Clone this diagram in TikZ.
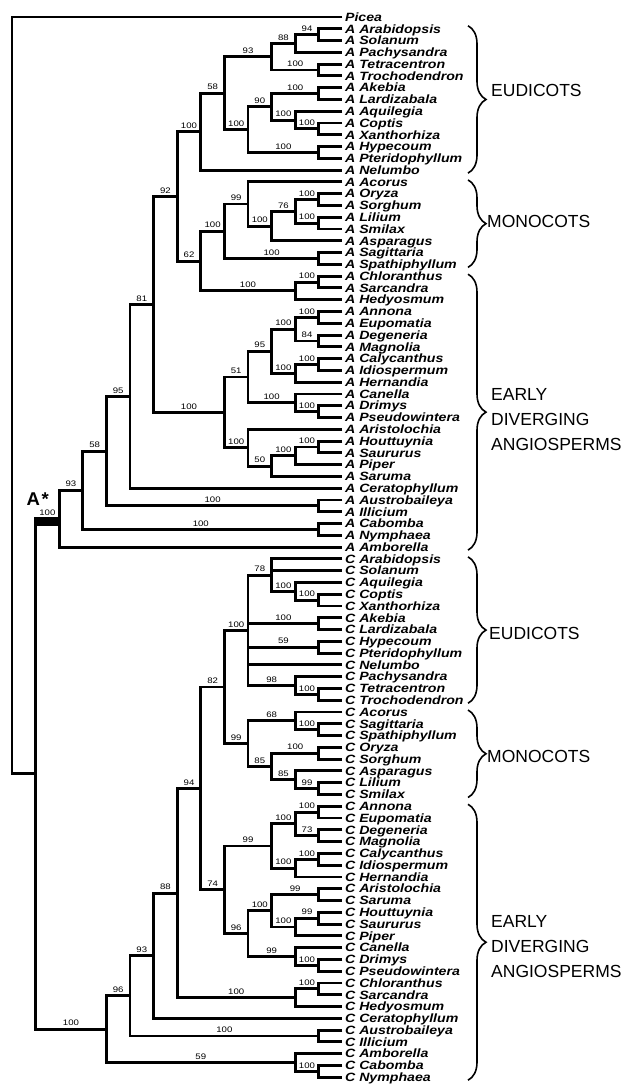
\documentclass[tikz,border=0pt]{standalone}
\usepackage{fontspec}
\setmainfont{Liberation Sans}
\newfontfamily\taxonfont[FakeStretch=1.18]{Liberation Sans}
\newfontfamily\supportfont[FakeStretch=1.2]{Liberation Sans}
\usetikzlibrary{calc, positioning, decorations.pathreplacing}
\tikzset{
  branch/.style={line width=2.9pt, line join=miter},
  a_bar/.style={line width=8.5pt},
  taxon/.style={font=\taxonfont\bfseries\itshape\fontsize{12}{12}\selectfont, inner sep=0pt, text height=8.5pt, text depth=0pt},
  support/.style={font=\supportfont\fontsize{8}{8}\selectfont, inner sep=0pt, anchor=south, yshift=3pt},
  group_brace/.style={decorate, decoration={brace, amplitude=18pt}, line width=1.6pt},
  group_label/.style={font=\fontsize{17.5}{25}\selectfont, inner sep=0pt, anchor=west, align=left},
  star_label/.style={font=\bfseries\fontsize{18.5}{19}\selectfont, inner sep=0pt, anchor=base west}
}
% clade: name, depth, first child, last child
\newcommand{\clade}[4]{%
  \path let \p1=($(#3)!0.5!(#4)$) in coordinate (#1) at ({12pt+23.6pt*#2},\y1);
  \draw[branch] (#3) -| (#1) |- (#4);
}
% support value on the branch child <- parent
\newcommand{\bootval}[3]{%
  \node[support] (b-#1) at ($(#1)!0.5!(#1 -| #2)$) {#3};
}

\begin{document}
\begin{tikzpicture}[x=1pt, y=-1pt]
  \useasboundingbox (0,0) rectangle (626,1086);

  % --- Taxa ---
  \foreach \name [count=\k from 0] in {Picea,
      A Arabidopsis, A Solanum, A Pachysandra, A Tetracentron, A Trochodendron,
      A Akebia, A Lardizabala, A Aquilegia, A Coptis, A Xanthorhiza,
      A Hypecoum, A Pteridophyllum, A Nelumbo,
      A Acorus, A Oryza, A Sorghum, A Lilium, A Smilax, A Asparagus,
      A Sagittaria, A Spathiphyllum,
      A Chloranthus, A Sarcandra, A Hedyosmum,
      A Annona, A Eupomatia, A Degeneria, A Magnolia, A Calycanthus,
      A Idiospermum, A Hernandia, A Canella, A Drimys, A Pseudowintera,
      A Aristolochia, A Houttuynia, A Saururus, A Piper, A Saruma,
      A Ceratophyllum, A Austrobaileya, A Illicium, A Cabomba, A Nymphaea,
      A Amborella,
      C Arabidopsis, C Solanum, C Aquilegia, C Coptis, C Xanthorhiza,
      C Akebia, C Lardizabala, C Hypecoum, C Pteridophyllum, C Nelumbo,
      C Pachysandra, C Tetracentron, C Trochodendron,
      C Acorus, C Sagittaria, C Spathiphyllum, C Oryza, C Sorghum,
      C Asparagus, C Lilium, C Smilax,
      C Annona, C Eupomatia, C Degeneria, C Magnolia, C Calycanthus,
      C Idiospermum, C Hernandia, C Aristolochia, C Saruma, C Houttuynia,
      C Saururus, C Piper, C Canella, C Drimys, C Pseudowintera,
      C Chloranthus, C Sarcandra, C Hedyosmum, C Ceratophyllum,
      C Austrobaileya, C Illicium, C Amborella, C Cabomba, C Nymphaea} {
    \coordinate (l\k) at (342.4, {17+11.78*\k});
    \node[taxon, right=2.5pt of l\k] (t\k) {\name};
  }

  % --- A copies: eudicots ---
  \clade{aAS}{13}{l1}{l2}
  \clade{aASP}{12}{aAS}{l3}
  \clade{aTT}{13}{l4}{l5}
  \clade{aCore}{11}{aASP}{aTT}
  \clade{aAL}{13}{l6}{l7}
  \clade{aCX}{13}{l9}{l10}
  \clade{aAqu}{12}{l8}{aCX}
  \clade{aRan}{11}{aAL}{aAqu}
  \clade{aHP}{13}{l11}{l12}
  \clade{aRanP}{10}{aRan}{aHP}
  \clade{aTri}{9}{aCore}{aRanP}
  \clade{aEud}{8}{aTri}{l13}

  % --- A copies: monocots, Chloranthaceae ---
  \clade{aOS}{13}{l15}{l16}
  \clade{aLS}{13}{l17}{l18}
  \clade{aOSLS}{12}{aOS}{aLS}
  \clade{aAsp}{11}{aOSLS}{l19}
  \clade{aMonA}{10}{l14}{aAsp}
  \clade{aSS}{13}{l20}{l21}
  \clade{aMon}{9}{aMonA}{aSS}
  \clade{aCS}{13}{l22}{l23}
  \clade{aChl}{12}{aCS}{l24}
  \clade{aMonChl}{8}{aMon}{aChl}
  \clade{aEudMon}{7}{aEud}{aMonChl}

  % --- A copies: magnoliids, Piperales ---
  \clade{aAE}{13}{l25}{l26}
  \clade{aDM}{13}{l27}{l28}
  \clade{aMagA}{12}{aAE}{aDM}
  \clade{aCI}{13}{l29}{l30}
  \clade{aLau}{12}{aCI}{l31}
  \clade{aMagLau}{11}{aMagA}{aLau}
  \clade{aDP}{13}{l33}{l34}
  \clade{aCan}{12}{l32}{aDP}
  \clade{aMagCan}{10}{aMagLau}{aCan}
  \clade{aHS}{13}{l36}{l37}
  \clade{aSaur}{12}{aHS}{l38}
  \clade{aPipS}{11}{aSaur}{l39}
  \clade{aPip}{10}{l35}{aPipS}
  \clade{aMagn}{9}{aMagCan}{aPip}

  % --- A copies: backbone ---
  \clade{aCore81}{6}{aEudMon}{aMagn}
  \clade{aCer}{5}{aCore81}{l40}
  \clade{aAI}{13}{l41}{l42}
  \clade{aAus}{4}{aCer}{aAI}
  \clade{aCN}{13}{l43}{l44}
  \clade{aNym}{3}{aAus}{aCN}
  \clade{aRoot}{2}{aNym}{l45}

  % --- C copies: eudicots ---
  \clade{cCX}{13}{l49}{l50}
  \clade{cAq}{12}{l48}{cCX}
  \clade{cAS}{11}{l46}{cAq}
  \draw[branch] (cAS) |- (l47);
  \clade{cAL}{13}{l51}{l52}
  \clade{cHP}{13}{l53}{l54}
  \clade{cTT}{13}{l57}{l58}
  \clade{cPach}{12}{l56}{cTT}
  \clade{cEud}{10}{cAS}{cPach}
  \foreach \c in {cAL, cHP, l55} {
    \draw[branch] (cEud) |- (\c);
  }

  % --- C copies: monocots ---
  \clade{cSS}{13}{l60}{l61}
  \clade{cAco}{12}{l59}{cSS}
  \clade{cOS}{13}{l62}{l63}
  \clade{cLS}{13}{l65}{l66}
  \clade{cAsp}{12}{l64}{cLS}
  \clade{cOSAsp}{11}{cOS}{cAsp}
  \clade{cMon}{10}{cAco}{cOSAsp}
  \clade{cEudMon}{9}{cEud}{cMon}

  % --- C copies: magnoliids, Piperales ---
  \clade{cAE}{13}{l67}{l68}
  \clade{cDM}{13}{l69}{l70}
  \clade{cMagA}{12}{cAE}{cDM}
  \clade{cCI}{13}{l71}{l72}
  \clade{cLau}{12}{cCI}{l73}
  \clade{cMagLau}{11}{cMagA}{cLau}
  \clade{cArS}{13}{l74}{l75}
  \clade{cHS}{13}{l76}{l77}
  \clade{cSaur}{12}{cHS}{l78}
  \clade{cPip}{11}{cArS}{cSaur}
  \clade{cDP}{13}{l80}{l81}
  \clade{cCan}{12}{l79}{cDP}
  \clade{cPipCan}{10}{cPip}{cCan}
  \clade{cMagn}{9}{cMagLau}{cPipCan}

  % --- C copies: backbone ---
  \clade{cCore94}{8}{cEudMon}{cMagn}
  \clade{cCS}{13}{l82}{l83}
  \clade{cChl}{12}{cCS}{l84}
  \clade{cCore88}{7}{cCore94}{cChl}
  \clade{cCer}{6}{cCore88}{l85}
  \clade{cAI}{13}{l86}{l87}
  \clade{cAus}{5}{cCer}{cAI}
  \clade{cCN}{13}{l89}{l90}
  \clade{cAmb}{12}{l88}{cCN}
  \clade{cRoot}{4}{cAus}{cAmb}

  % --- Root and the duplication ---
  \clade{nDup}{1}{aRoot}{cRoot}
  \clade{nRoot}{0}{l0}{nDup}
  \draw[a_bar] ($(aRoot -| nDup)+(0,3)$) -- ($(aRoot)+(0,3)$);
  \node[star_label] (astar) at (26.5,505) {A\hspace{1.5pt}*};

  % --- Support values ---
  \bootval{aAS}{aASP}{94}
  \bootval{aASP}{aCore}{88}
  \bootval{aTT}{aCore}{100}
  \bootval{aCore}{aTri}{93}
  \bootval{aAL}{aRan}{100}
  \bootval{aCX}{aAqu}{100}
  \bootval{aAqu}{aRan}{100}
  \bootval{aRan}{aRanP}{90}
  \bootval{aHP}{aRanP}{100}
  \bootval{aRanP}{aTri}{100}
  \bootval{aTri}{aEud}{58}
  \bootval{aEud}{aEudMon}{100}
  \bootval{aOS}{aOSLS}{100}
  \bootval{aLS}{aOSLS}{100}
  \bootval{aOSLS}{aAsp}{76}
  \bootval{aAsp}{aMonA}{100}
  \bootval{aMonA}{aMon}{99}
  \bootval{aSS}{aMon}{100}
  \bootval{aMon}{aMonChl}{100}
  \bootval{aCS}{aChl}{100}
  \bootval{aChl}{aMonChl}{100}
  \bootval{aMonChl}{aEudMon}{62}
  \bootval{aEudMon}{aCore81}{92}
  \bootval{aAE}{aMagA}{100}
  \bootval{aDM}{aMagA}{84}
  \bootval{aMagA}{aMagLau}{100}
  \bootval{aCI}{aLau}{100}
  \bootval{aLau}{aMagLau}{100}
  \bootval{aMagLau}{aMagCan}{95}
  \bootval{aDP}{aCan}{100}
  \bootval{aCan}{aMagCan}{100}
  \bootval{aMagCan}{aMagn}{51}
  \bootval{aHS}{aSaur}{100}
  \bootval{aSaur}{aPipS}{100}
  \bootval{aPipS}{aPip}{50}
  \bootval{aPip}{aMagn}{100}
  \bootval{aMagn}{aCore81}{100}
  \bootval{aCore81}{aCer}{81}
  \bootval{aCer}{aAus}{95}
  \bootval{aAI}{aAus}{100}
  \bootval{aAus}{aNym}{58}
  \bootval{aCN}{aNym}{100}
  \bootval{aNym}{aRoot}{93}
  \bootval{aRoot}{nDup}{100}
  \bootval{cCX}{cAq}{100}
  \bootval{cAq}{cAS}{100}
  \bootval{cAS}{cEud}{78}
  \bootval{cAL}{cEud}{100}
  \bootval{cHP}{cEud}{59}
  \bootval{cTT}{cPach}{100}
  \bootval{cPach}{cEud}{98}
  \bootval{cEud}{cEudMon}{100}
  \bootval{cSS}{cAco}{100}
  \bootval{cAco}{cMon}{68}
  \bootval{cOS}{cOSAsp}{100}
  \bootval{cLS}{cAsp}{99}
  \bootval{cAsp}{cOSAsp}{85}
  \bootval{cOSAsp}{cMon}{85}
  \bootval{cMon}{cEudMon}{99}
  \bootval{cEudMon}{cCore94}{82}
  \bootval{cAE}{cMagA}{100}
  \bootval{cDM}{cMagA}{73}
  \bootval{cMagA}{cMagLau}{100}
  \bootval{cCI}{cLau}{100}
  \bootval{cLau}{cMagLau}{100}
  \bootval{cMagLau}{cMagn}{99}
  \bootval{cArS}{cPip}{99}
  \bootval{cHS}{cSaur}{99}
  \bootval{cSaur}{cPip}{100}
  \bootval{cPip}{cPipCan}{100}
  \bootval{cDP}{cCan}{100}
  \bootval{cCan}{cPipCan}{99}
  \bootval{cPipCan}{cMagn}{96}
  \bootval{cMagn}{cCore94}{74}
  \bootval{cCore94}{cCore88}{94}
  \bootval{cCS}{cChl}{100}
  \bootval{cChl}{cCore88}{100}
  \bootval{cCore88}{cCer}{88}
  \bootval{cCer}{cAus}{93}
  \bootval{cAI}{cAus}{100}
  \bootval{cAus}{cRoot}{96}
  \bootval{cCN}{cAmb}{100}
  \bootval{cAmb}{cRoot}{59}
  \bootval{cRoot}{nDup}{100}

  % --- Groups ---
  \coordinate (bx) at (468,0);
  \draw[group_brace] ($(l1 -| bx)+(0,-3)$) -- ($(l13 -| bx)+(0,3)$);
  \draw[group_brace] ($(l14 -| bx)+(0,-2)$) -- ($(l21 -| bx)+(0,3)$);
  \draw[group_brace] ($(l22 -| bx)+(0,-2)$) -- ($(l45 -| bx)+(0,3)$);
  \draw[group_brace] ($(l46 -| bx)+(0,-2)$) -- ($(l58 -| bx)+(0,3)$);
  \draw[group_brace] ($(l59 -| bx)+(0,-2)$) -- ($(l66 -| bx)+(0,3)$);
  \draw[group_brace] ($(l67 -| bx)+(0,-2)$) -- ($(l90 -| bx)+(0,3)$);
  \node[group_label] (eudA) at (491,90) {EUDICOTS};
  \node[group_label] (monA) at (487,221) {MONOCOTS};
  \node[group_label] (edaA) at (491,420) {EARLY\\DIVERGING\\ANGIOSPERMS};
  \node[group_label] (eudC) at (489,633) {EUDICOTS};
  \node[group_label] (monC) at (487,756) {MONOCOTS};
  \node[group_label] (edaC) at (491,947) {EARLY\\DIVERGING\\ANGIOSPERMS};

\end{tikzpicture}
\end{document}
